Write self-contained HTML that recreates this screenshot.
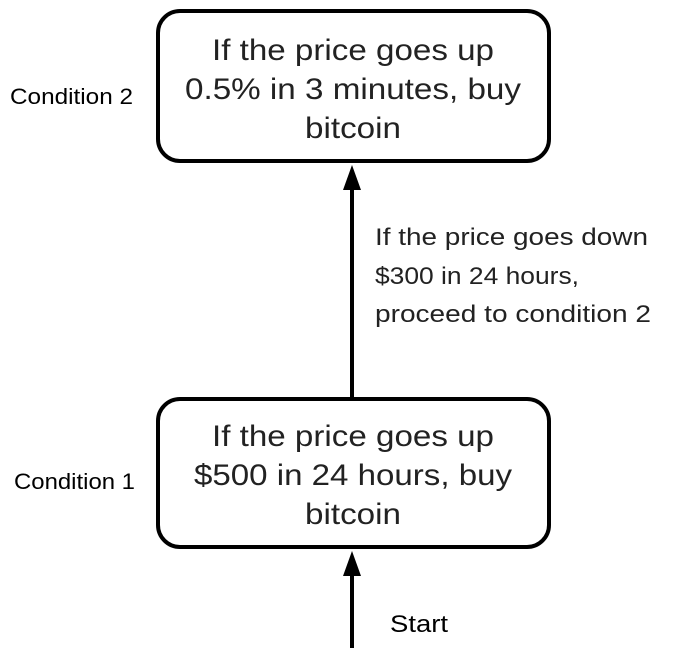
<!DOCTYPE html>
<html><head><meta charset="utf-8"><style>
html,body{margin:0;padding:0;background:#fff;}
svg{display:block;font-family:"Liberation Sans",Arial,sans-serif;}
</style></head><body>
<svg width="678" height="668" viewBox="0 0 678 668">
<g>
<rect x="158" y="11" width="391" height="150" rx="22" ry="22" fill="#fff" stroke="#000" stroke-width="4"/>
<text x="353" y="60" font-size="30" text-anchor="middle" fill="#222" textLength="282" lengthAdjust="spacingAndGlyphs">If the price goes up</text>
<text x="353" y="99" font-size="30" text-anchor="middle" fill="#222" textLength="336" lengthAdjust="spacingAndGlyphs">0.5% in 3 minutes, buy</text>
<text x="353" y="138" font-size="30" text-anchor="middle" fill="#222" textLength="96" lengthAdjust="spacingAndGlyphs">bitcoin</text>
</g>
<g>
<rect x="158" y="399" width="391" height="148" rx="22" ry="22" fill="#fff" stroke="#000" stroke-width="4"/>
<text x="353" y="446" font-size="30" text-anchor="middle" fill="#222" textLength="282" lengthAdjust="spacingAndGlyphs">If the price goes up</text>
<text x="353" y="485" font-size="30" text-anchor="middle" fill="#222" textLength="318" lengthAdjust="spacingAndGlyphs">$500 in 24 hours, buy</text>
<text x="353" y="524" font-size="30" text-anchor="middle" fill="#222" textLength="96" lengthAdjust="spacingAndGlyphs">bitcoin</text>
</g>
<text x="10" y="104" font-size="22" fill="#000" textLength="123" lengthAdjust="spacingAndGlyphs">Condition 2</text>
<text x="14" y="489" font-size="22" fill="#000" textLength="121" lengthAdjust="spacingAndGlyphs">Condition 1</text>
<g>
<line x1="352" y1="398" x2="352" y2="185" stroke="#000" stroke-width="4"/>
<polygon points="352,165 343,190 361,190" fill="#000"/>
</g>
<g>
<line x1="352" y1="648" x2="352" y2="572" stroke="#000" stroke-width="4"/>
<polygon points="352,551 343,576 361,576" fill="#000"/>
</g>
<g font-size="24" fill="#222">
<text x="375" y="245" textLength="273" lengthAdjust="spacingAndGlyphs">If the price goes down</text>
<text x="375" y="284" textLength="204" lengthAdjust="spacingAndGlyphs">$300 in 24 hours,</text>
<text x="375" y="322" textLength="276" lengthAdjust="spacingAndGlyphs">proceed to condition 2</text>
</g>
<text x="390" y="632" font-size="24" fill="#000" textLength="58" lengthAdjust="spacingAndGlyphs">Start</text>
</svg>
</body></html>
